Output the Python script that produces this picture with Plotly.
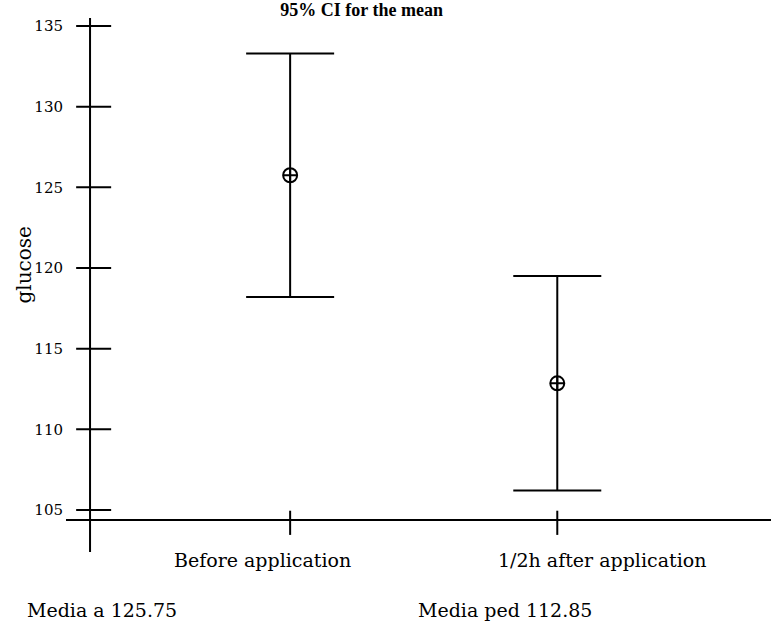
import plotly.graph_objects as go

# data
groups = ["Before application", "1/2h after application"]
group_pos = [1, 2]
means = [125.75, 112.85]
upper = [133.3, 119.5]
lower = [118.2, 106.2]
y_ticks = [105, 110, 115, 120, 125, 130, 135]
footer = ["Media a 125.75", "Media ped 112.85"]

FONT = "DejaVu Serif"
Y_AXIS_X = 0.251      # where the vertical axis crosses (data units)
X_AXIS_Y = 104.37     # where the horizontal axis crosses (data units)

fig = go.Figure()

fig.add_trace(go.Scatter(
    x=group_pos, y=means, mode="markers",
    marker=dict(symbol="circle-cross-open", size=14, color="black",
                line=dict(width=2, color="black")),
    error_y=dict(type="data", symmetric=False,
                 array=[u - m for u, m in zip(upper, means)],
                 arrayminus=[m - l for m, l in zip(means, lower)],
                 color="black", thickness=2, width=44),
    showlegend=False,
))

shapes = []
# axis lines
shapes.append(dict(type="line", xref="x", yref="paper", x0=Y_AXIS_X, x1=Y_AXIS_X,
                   y0=0, y1=1, line=dict(color="black", width=2)))
shapes.append(dict(type="line", xref="paper", yref="y", x0=0, x1=1,
                   y0=X_AXIS_Y, y1=X_AXIS_Y, line=dict(color="black", width=2)))
# y ticks crossing the axis
for v in y_ticks:
    shapes.append(dict(type="line", xref="x", yref="y", x0=Y_AXIS_X - 0.052,
                       x1=Y_AXIS_X + 0.079, y0=v, y1=v,
                       line=dict(color="black", width=2)))
# x ticks crossing the axis
for p in group_pos:
    shapes.append(dict(type="line", xref="x", yref="y", x0=p, x1=p,
                       y0=103.45, y1=104.95, line=dict(color="black", width=2)))

annotations = []
label_x = [0.895, 2.169]
for lx, g in zip(label_x, groups):
    annotations.append(dict(x=lx, y=-0.015, xref="x", yref="paper", text=g,
                            showarrow=False, yanchor="middle",
                            font=dict(family=FONT, size=19, color="black")))
footer_x = [-0.058, 0.496]
for fx, t in zip(footer_x, footer):
    annotations.append(dict(x=fx, y=-0.109, xref="paper", yref="paper",
                            text=t, showarrow=False, xanchor="left",
                            yanchor="middle",
                            font=dict(family=FONT, size=19, color="black")))
annotations.append(dict(x=-0.079, y=0.537, xref="paper", yref="paper",
                        text="glucose", textangle=-90, showarrow=False,
                        font=dict(family=FONT, size=20, color="black")))

fig.update_layout(
    width=771, height=627,
    margin=dict(l=66, r=0, t=18, b=75),
    paper_bgcolor="white", plot_bgcolor="white",
    title=dict(text="<b>95% CI for the mean</b>", x=0.469, xanchor="center",
               y=0.994, yanchor="top",
               font=dict(family="Liberation Serif", size=18, color="black")),
    xaxis=dict(range=[0.161, 2.80], showgrid=False, zeroline=False,
               showticklabels=False, ticks=""),
    yaxis=dict(range=[102.39, 135.5], showgrid=False, zeroline=False,
               tickvals=y_ticks, ticks="", ticklabelstandoff=2,
               tickfont=dict(family=FONT, size=15, color="black")),
    shapes=shapes,
    annotations=annotations,
)

fig.write_html("out.html", config={"displayModeBar": False},
               post_script="document.body.style.margin='0';")
